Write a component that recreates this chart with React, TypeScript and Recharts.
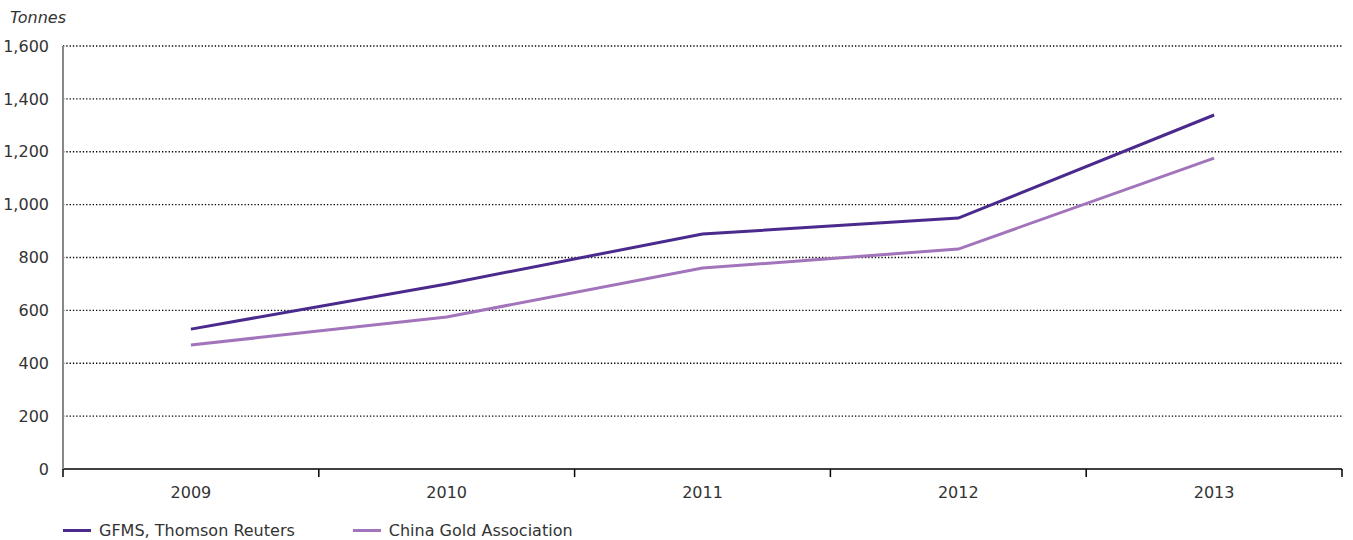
import React from "react";
import {
  LineChart,
  Line,
  XAxis,
  YAxis,
  CartesianGrid,
  Legend,
} from "recharts";

const years = [2009, 2010, 2011, 2012, 2013];
const gfms = [529, 700, 889, 949, 1339];
const chinaGold = [469, 575, 760, 832, 1176];
const yTicks = [0, 200, 400, 600, 800, 1000, 1200, 1400, 1600];
const bandEdges = [2008.5, 2009.5, 2010.5, 2011.5, 2012.5, 2013.5];

const data = years.map((year, i) => ({
  year,
  gfms: gfms[i],
  chinaGold: chinaGold[i],
}));

const FONT = "'DejaVu Sans', sans-serif";

const fmt = (v: number) => v.toLocaleString("en-US");

function LegendContent() {
  const items = [
    { label: "GFMS, Thomson Reuters", color: "#4a2a8c" },
    { label: "China Gold Association", color: "#a274bb" },
  ];
  return (
    <div style={{ display: "flex", gap: 58, fontFamily: FONT, fontSize: 16, color: "#333" }}>
      {items.map((it) => (
        <div key={it.label} style={{ display: "flex", alignItems: "center" }}>
          <span style={{ display: "inline-block", width: 28, height: 3, background: it.color, marginRight: 8 }} />
          {it.label}
        </div>
      ))}
    </div>
  );
}

export default function App() {
  return (
    <div style={{ position: "absolute", left: 0, top: 0, width: 1353, height: 540, background: "#fff" }}>
      <div style={{ position: "absolute", left: 10, top: 8, fontFamily: FONT, fontSize: 16, fontStyle: "italic", color: "#333" }}>
        Tonnes
      </div>
      <LineChart
        width={1353}
        height={540}
        data={data}
        margin={{ top: 46, right: 11, bottom: 9, left: 0 }}
      >
        <CartesianGrid
          horizontal
          vertical={false}
          stroke="#000"
          strokeWidth={1.3}
          strokeDasharray="1.3 2"
          horizontalValues={yTicks.filter((t) => t > 0)}
        />
        <XAxis
          dataKey="year"
          type="number"
          domain={[2008.5, 2013.5]}
          ticks={bandEdges}
          tickFormatter={() => ""}
          tickSize={8}
          height={2}
          axisLine={{ stroke: "#000", strokeWidth: 1.5 }}
          tickLine={{ stroke: "#000", strokeWidth: 1.5 }}
        />
        <XAxis
          xAxisId="labels"
          dataKey="year"
          type="number"
          domain={[2008.5, 2013.5]}
          ticks={years}
          axisLine={false}
          tickLine={false}
          height={38}
          tickMargin={10}
          tick={{ fill: "#333", fontFamily: FONT, fontSize: 16 }}
        />
        <YAxis
          domain={[0, 1600]}
          ticks={yTicks}
          tickFormatter={fmt}
          width={63}
          tickLine={false}
          axisLine={{ stroke: "#888", strokeWidth: 2 }}
          tickMargin={8}
          tick={{ fill: "#333", fontFamily: FONT, fontSize: 16 }}
        />
        <Legend
          verticalAlign="bottom"
          align="left"
          content={<LegendContent />}
          wrapperStyle={{ left: 63, bottom: -3, height: 22, paddingBottom: 0 }}
        />
        <Line
          type="linear"
          dataKey="gfms"
          stroke="#4a2a8c"
          strokeWidth={3}
          dot={false}
          isAnimationActive={false}
        />
        <Line
          type="linear"
          dataKey="chinaGold"
          stroke="#a274bb"
          strokeWidth={3}
          dot={false}
          isAnimationActive={false}
        />
      </LineChart>
    </div>
  );
}
